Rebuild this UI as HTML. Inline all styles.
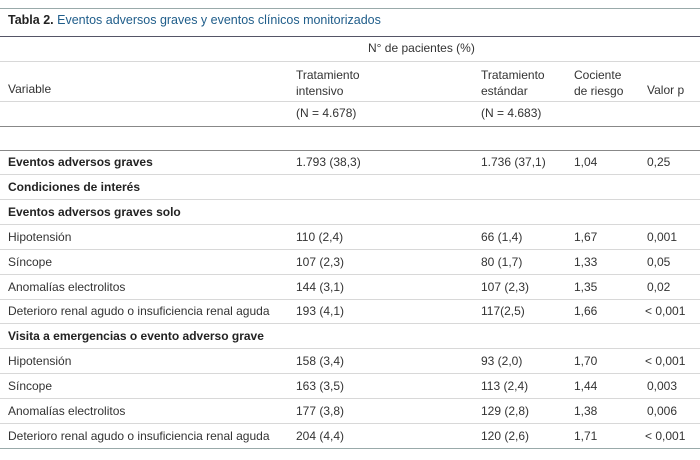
<!DOCTYPE html>
<html><head><meta charset="utf-8"><style>
body{margin:0;background:#fff;width:700px;height:460px;position:relative;overflow:hidden;font-family:"Liberation Sans",sans-serif;color:#333;}
.t{position:absolute;font-size:12px;white-space:nowrap;line-height:14px;}
.b{font-weight:bold;color:#222;}
.l{position:absolute;left:0;width:700px;height:1px;background:#d8d8d8;}
.d{background:#556;}
</style></head><body>
<div class="l" style="top:8px;background:#9aa;"></div>
<div class="t" style="left:8px;top:13px;font-size:12.5px;"><b style="color:#222">Tabla 2.</b> <span style="color:#1f5d8a">Eventos adversos graves y eventos clínicos monitorizados</span></div>
<div class="l d" style="top:36px"></div>
<div class="t" style="left:368px;top:41px">N° de pacientes (%)</div>
<div class="l" style="top:61px"></div>
<div class="t" style="left:8px;top:82px">Variable</div>
<div class="t" style="left:296px;top:67px;line-height:16px">Tratamiento<br>intensivo</div>
<div class="t" style="left:481px;top:67px;line-height:16px">Tratamiento<br>estándar</div>
<div class="t" style="left:574px;top:67px;line-height:16px">Cociente<br>de riesgo</div>
<div class="t" style="left:647px;top:83px">Valor p</div>
<div class="l" style="top:101px"></div>
<div class="t" style="left:296px;top:106px">(N = 4.678)</div>
<div class="t" style="left:481px;top:106px">(N = 4.683)</div>
<div class="l" style="top:126px;background:#888"></div>
<div class="l" style="top:150px;background:#888"></div>
<div id="rows"></div>
<script>
const labels=["Eventos adversos graves","Condiciones de interés","Eventos adversos graves solo","Hipotensión","Síncope","Anomalías electrolitos","Deterioro renal agudo o insuficiencia renal aguda","Visita a emergencias o evento adverso grave","Hipotensión","Síncope","Anomalías electrolitos","Deterioro renal agudo o insuficiencia renal aguda"];
const bold=[1,1,1,0,0,0,0,1,0,0,0,0];
const intensive=["1.793 (38,3)","","","110 (2,4)","107 (2,3)","144 (3,1)","193 (4,1)","","158 (3,4)","163 (3,5)","177 (3,8)","204 (4,4)"];
const standard=["1.736 (37,1)","","","66 (1,4)","80 (1,7)","107 (2,3)","117(2,5)","","93 (2,0)","113 (2,4)","129 (2,8)","120 (2,6)"];
const risk=["1,04","","","1,67","1,33","1,35","1,66","","1,70","1,44","1,38","1,71"];
const pval=["0,25","","","0,001","0,05","0,02","< 0,001","","< 0,001","0,003","0,006","< 0,001"];
const host=document.getElementById('rows');
const y0=155,h=24.9;
function add(cls,x,y,txt,name){const e=document.createElement('div');e.className=cls;e.style.left=x+'px';e.style.top=y+'px';e.textContent=txt;


host.appendChild(e);}
labels.forEach((lab,i)=>{const y=y0+i*h;
add('t'+(bold[i]?' b':''),8,y,lab,'row-label');
if(intensive[i])add('t',296,y,intensive[i],'intensive-cell');
if(standard[i])add('t',481,y,standard[i],'standard-cell');
if(risk[i])add('t',574,y,risk[i],'risk-cell');
if(pval[i])add('t',pval[i][0]=='<'?645:647,y,pval[i],'pvalue-cell');
const l=document.createElement('div');l.className='l';l.style.top=(y+19)+'px';
if(i==labels.length-1){l.style.background='#9aa';}


host.appendChild(l);});
</script>
</body></html>
